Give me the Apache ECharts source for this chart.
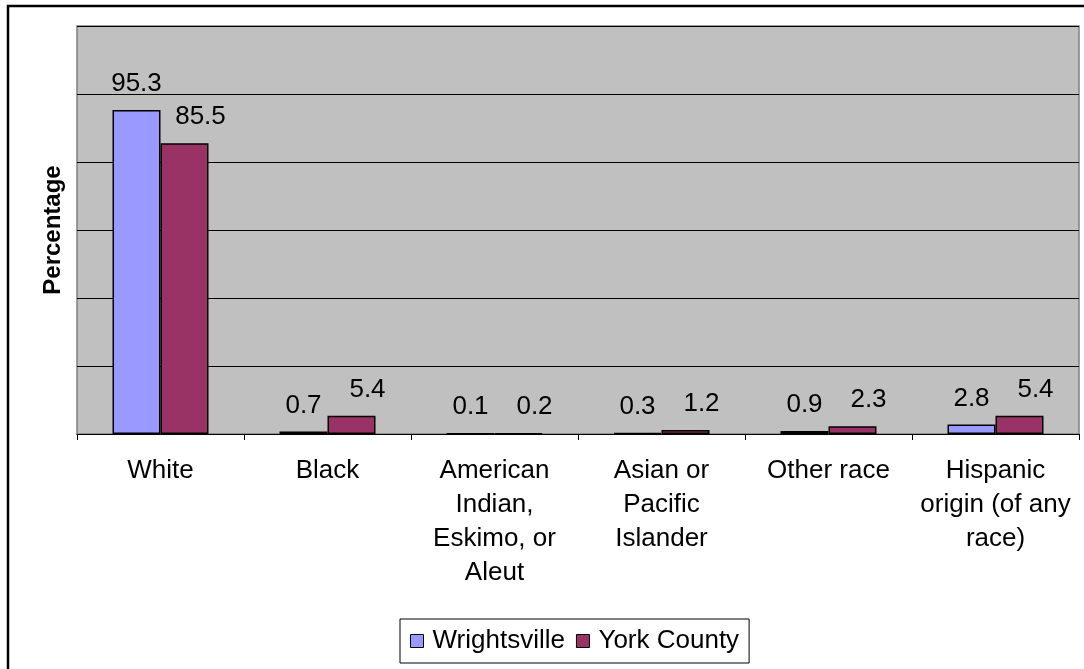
<!DOCTYPE html>
<html>
<head>
<meta charset="utf-8">
<script src="https://cdn.jsdelivr.net/npm/echarts@6/dist/echarts.min.js"></script>
<style>
  html, body { margin: 0; padding: 0; background: #fff; }
  #chart { width: 1084px; height: 669px; }
</style>
</head>
<body>
<div id="chart"></div>
<script>
const categories = [
  "White",
  "Black",
  "American\nIndian,\nEskimo, or\nAleut",
  "Asian or\nPacific\nIslander",
  "Other race",
  "Hispanic\norigin (of any\nrace)"
];
const wrightsville = [95.3, 0.7, 0.1, 0.3, 0.9, 2.8];
const yorkCounty = [85.5, 5.4, 0.2, 1.2, 2.3, 5.4];
const seriesNames = ["Wrightsville", "York County"];

const FONT = "'Liberation Sans', Arial, sans-serif";
const chart = echarts.init(document.getElementById('chart'), null, { renderer: 'canvas' });

const labelStyle = {
  show: true,
  position: 'top',
  distance: 13,
  color: '#000',
  fontFamily: FONT,
  fontSize: 26
};

chart.setOption({
  animation: false,
  backgroundColor: '#ffffff',
  graphic: [{
    type: 'rect',
    shape: { x: 8, y: 6, width: 1100, height: 700 },
    style: { fill: 'none', stroke: '#000', lineWidth: 2.5 },
    silent: true,
    z: 100
  }],
  grid: {
    left: 77, right: 5, top: 26, bottom: 235,
    show: true,
    backgroundColor: '#C0C0C0',
    borderColor: '#808080',
    borderWidth: 1.5
  },
  legend: {
    left: 400, top: 619,
    padding: [9, 10, 9, 10],
    borderColor: '#000',
    borderWidth: 1,
    backgroundColor: '#fff',
    itemWidth: 13, itemHeight: 13,
    itemGap: 11,
    data: seriesNames.map(n => ({ name: n, icon: 'rect' })),
    itemStyle: { borderColor: '#000', borderWidth: 1 },
    textStyle: { fontFamily: FONT, fontSize: 26, color: '#000', padding: [0, 0, 0, 4] }
  },
  xAxis: {
    type: 'category',
    data: categories,
    axisLine: { show: true, lineStyle: { color: '#000', width: 1 } },
    axisTick: { show: true, length: 6, lineStyle: { color: '#000' } },
    axisLabel: {
      interval: 0,
      margin: 20,
      color: '#000',
      fontFamily: FONT,
      fontSize: 26,
      lineHeight: 34,
      align: 'center'
    }
  },
  yAxis: {
    type: 'value',
    min: 0, max: 120, interval: 20,
    name: 'Percentage',
    nameLocation: 'middle',
    nameGap: 12,
    nameTextStyle: { fontFamily: FONT, fontSize: 24, fontWeight: 'bold', color: '#000' },
    axisLine: { show: false },
    axisTick: { show: false },
    axisLabel: { show: false },
    splitLine: { show: true, lineStyle: { color: '#000', width: 1 } }
  },
  series: [
    {
      name: seriesNames[0],
      type: 'bar',
      data: wrightsville,
      barWidth: 48,
      barGap: '0%',
      itemStyle: { color: '#9999FF', borderColor: '#000', borderWidth: 1.5 },
      label: labelStyle
    },
    {
      name: seriesNames[1],
      type: 'bar',
      data: yorkCounty,
      barWidth: 48,
      barGap: '0%',
      itemStyle: { color: '#993366', borderColor: '#000', borderWidth: 1.5 },
      label: Object.assign({}, labelStyle, { offset: [16, 0] })
    }
  ]
});
</script>
</body>
</html>
